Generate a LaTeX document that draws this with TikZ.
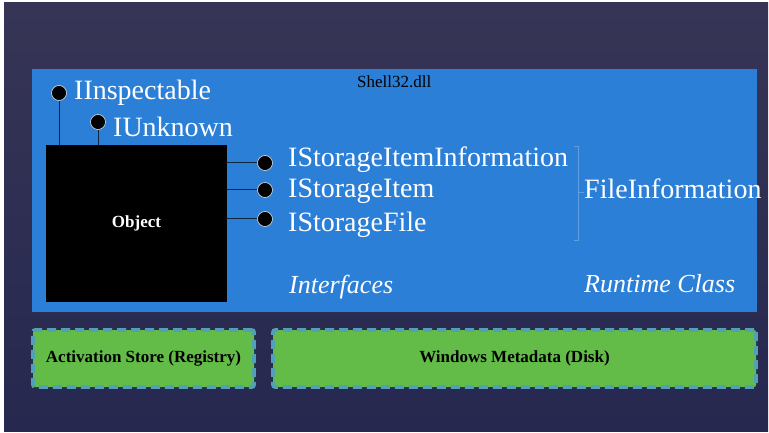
\documentclass[tikz,border=0pt]{standalone}
\usepackage{fontspec}
\setmainfont{Liberation Serif}
\usepackage{tikz}
\usetikzlibrary{positioning,calc}

\definecolor{slidetop}{HTML}{363556}
\definecolor{slidebot}{HTML}{26284F}
\definecolor{dllblue}{HTML}{2B7FD7}
\definecolor{bracketblue}{HTML}{5E9FE2}
\definecolor{storegreen}{HTML}{63BC47}
\definecolor{storeedge}{HTML}{51A0B3}

\tikzset{
  ball/.style={circle, fill=black, draw=white!75!gray, line width=0.6pt, minimum size=15pt, inner sep=0pt},
  stem/.style={draw=black!70!dllblue, line width=1pt},
  iface/.style={font=\fontsize{28}{31}\selectfont, text=white, anchor=base west, inner sep=0pt},
  tag/.style={font=\fontsize{26}{30}\selectfont\itshape, text=white, anchor=base west, inner sep=0pt},
  store/.style={fill=storegreen, draw=storeedge, line width=3.6pt, dash pattern=on 9pt off 5pt,
    rounded corners=2pt, minimum height=57pt, font=\fontsize{17}{20}\selectfont\bfseries, text=black},
}

\begin{document}
\begin{tikzpicture}[x=1pt, y=-1pt]
\useasboundingbox (0,0) rectangle (769,433);
\fill[white] (0,0) rectangle (769,433);
\shade[top color=slidetop, bottom color=slidebot] (4,3) rectangle (768,431); % slide

% module area
\node[fill=dllblue, minimum width=725pt, minimum height=243pt, anchor=north west, inner sep=0pt] (dll) at (32,69) {};
\node[font=\fontsize{17}{20}\selectfont, anchor=base west, inner sep=0pt] (dllname) at (357,88) {Shell32.dll};

% the object itself
\node[fill=black, minimum width=181pt, minimum height=157pt, inner sep=0pt,
      font=\fontsize{17}{20}\selectfont\bfseries, text=white] (obj) at (136.5,223.5) {Object};

% lollipops on top
\node[ball] (insp) at (59,93) {};
\node[ball] (unk) at (98,122) {};
\draw[stem] (insp.south) -- (insp.south |- obj.north);
\draw[stem] (unk.south) -- (unk.south |- obj.north);
\node[iface] (inspname) at (74,100) {IInspectable};
\node[iface] (unkname) at (113,137) {IUnknown};

% lollipops on the right
\foreach \y/\b/\n/\t in {163/167/info/IStorageItemInformation, 190/198/item/IStorageItem, 219/231/file/IStorageFile} {
    \node[ball] (\n) at (265,\y) {};
    \draw[stem] (obj.east |- \n) -- (\n.west);
    \node[iface] (\n name) at (288,\b) {\t};
}

% runtime class bracket
\node[iface] (rtname) at (584,199) {FileInformation};
\draw[bracketblue, line width=0.8pt] (574,146) -- (578,146) -- (578,240) -- (574,240);
\draw[bracketblue, line width=0.8pt] (578,192) -- (rtname.west |- 0,192);

\node[tag] (ifaces) at (289,293) {Interfaces};
\node[tag] (rtclass) at (584,292) {Runtime Class};

% stores below
\node[store, minimum width=221pt] (reg) at (143.5,358.5) {Activation Store (Registry)};
\node[store, minimum width=483pt] (meta) at (514.5,358.5) {Windows Metadata (Disk)};
\end{tikzpicture}
\end{document}
